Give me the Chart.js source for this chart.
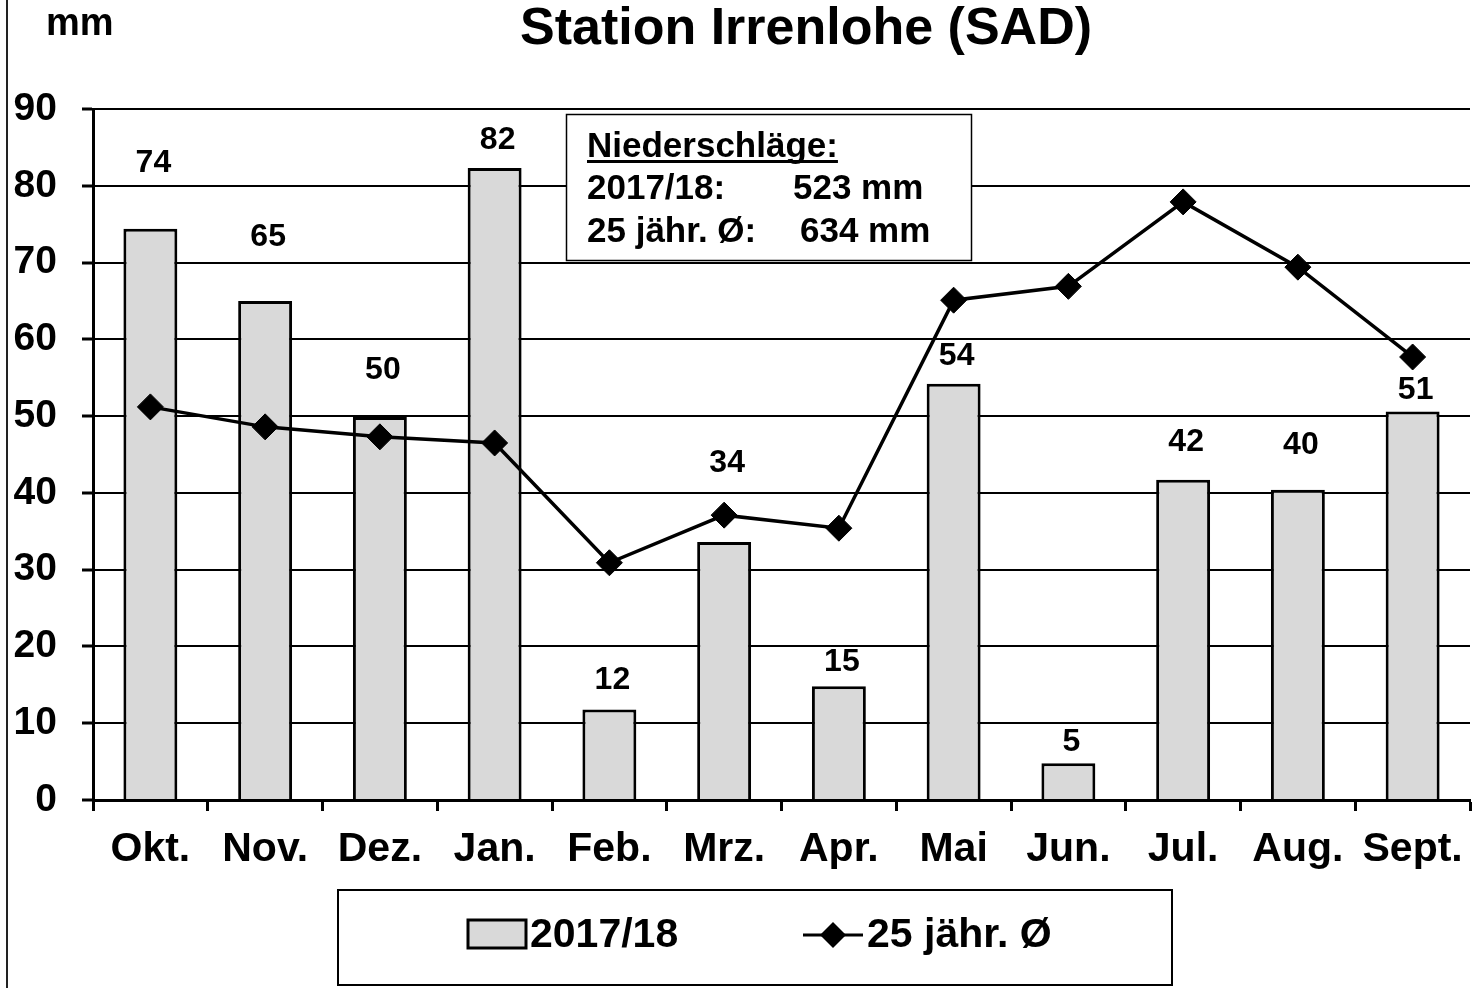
<!DOCTYPE html>
<html><head><meta charset="utf-8">
<script src="https://cdn.jsdelivr.net/npm/chart.js@4/dist/chart.umd.min.js"></script>
<style>html,body{margin:0;padding:0;background:#fff;}#wrap{width:1472px;height:988px;position:relative;}canvas{display:block;}</style>
</head><body><div id="wrap"><canvas id="c" width="1472" height="988"></canvas></div>
<script>
// ---- data ----
const categories = ['Okt.','Nov.','Dez.','Jan.','Feb.','Mrz.','Apr.','Mai','Jun.','Jul.','Aug.','Sept.'];
const precip201718 = [74.4, 65.0, 49.9, 82.3, 11.8, 33.6, 14.8, 54.2, 4.8, 41.7, 40.4, 50.6];
const avg25years = [51.2, 48.6, 47.3, 46.5, 30.9, 37.1, 35.4, 65.1, 66.9, 77.9, 69.4, 57.7];
const yTickValues = [0, 10, 20, 30, 40, 50, 60, 70, 80, 90];
const seriesNames = ['2017/18', '25 jähr. Ø'];
const chartTitle = 'Station Irrenlohe (SAD)';
const unitLabel = 'mm';
const boxHeading = 'Niederschläge:';
const boxRowLabels = ['2017/18:', '25 jähr. Ø:'];
const boxRowValues = ['523 mm', '634 mm'];

// ---- style (label placement relative to bar top, px) ----
const labelOffsets = [-66, -64, -47, -28, -29, -79, -24, -28, -21, -38, -45, -21];
const FONT = '"Liberation Sans", Arial, Helvetica, sans-serif';
const BAR_FILL = '#d9d9d9';

const overlay = {
  id: 'overlay',
  afterDraw(chart) {
    const ctx = chart.ctx;
    ctx.save();
    // left frame line
    ctx.strokeStyle = '#222'; ctx.lineWidth = 2;
    ctx.beginPath(); ctx.moveTo(7, 0); ctx.lineTo(7, 988); ctx.stroke();

    ctx.fillStyle = '#000';
    // title
    ctx.font = 'bold 52px ' + FONT;
    ctx.textAlign = 'center'; ctx.textBaseline = 'alphabetic';
    ctx.fillText(chartTitle, 806, 44);
    // unit
    ctx.font = 'bold 38px ' + FONT;
    ctx.textAlign = 'left';
    ctx.fillText(unitLabel, 46, 35);

    // data labels
    const meta = chart.getDatasetMeta(1);
    ctx.font = 'bold 32px ' + FONT;
    ctx.textAlign = 'center'; ctx.textBaseline = 'middle';
    meta.data.forEach((bar, i) => {
      ctx.fillText(String(Math.round(precip201718[i])), bar.x + 3, bar.y + labelOffsets[i]);
    });

    // info box
    ctx.fillStyle = '#fff';
    ctx.fillRect(566, 114, 406, 147);
    ctx.strokeStyle = '#000'; ctx.lineWidth = 1.5;
    ctx.strokeRect(566.5, 114.5, 405, 146);
    ctx.fillStyle = '#000';
    ctx.font = 'bold 35px ' + FONT;
    ctx.textAlign = 'left'; ctx.textBaseline = 'alphabetic';
    ctx.fillText(boxHeading, 587, 157);
    const hw = ctx.measureText(boxHeading).width;
    ctx.fillRect(587, 160, hw, 3);
    ctx.fillText(boxRowLabels[0], 587, 199);
    ctx.fillText(boxRowValues[0], 793, 199);
    ctx.fillText(boxRowLabels[1], 587, 242);
    ctx.fillText(boxRowValues[1], 800, 242);

    // legend
    ctx.strokeStyle = '#000'; ctx.lineWidth = 2;
    ctx.strokeRect(338, 890, 834, 95);
    ctx.fillStyle = BAR_FILL;
    ctx.fillRect(468, 920, 58, 28);
    ctx.lineWidth = 3;
    ctx.strokeRect(468, 920, 58, 28);
    ctx.fillStyle = '#000';
    ctx.font = 'bold 41px ' + FONT;
    ctx.textBaseline = 'middle';
    ctx.fillText(seriesNames[0], 530, 936);
    ctx.beginPath(); ctx.moveTo(803, 935); ctx.lineTo(863, 935); ctx.stroke();
    ctx.beginPath();
    ctx.moveTo(833, 922); ctx.lineTo(846, 935); ctx.lineTo(833, 948); ctx.lineTo(820, 935); ctx.closePath();
    ctx.fill();
    ctx.fillText(seriesNames[1], 867, 936);
    ctx.restore();
  }
};

new Chart(document.getElementById('c'), {
  data: {
    labels: categories,
    datasets: [
      {
        type: 'line', label: seriesNames[1], data: avg25years, order: 0,
        borderColor: '#000', borderWidth: 3.5, tension: 0,
        pointStyle: 'rectRot', pointRadius: 13, pointBackgroundColor: '#000',
        pointBorderColor: '#000', pointBorderWidth: 1
      },
      {
        type: 'bar', label: seriesNames[0], data: precip201718, order: 1,
        backgroundColor: BAR_FILL, borderColor: '#000', borderWidth: 3,
        barPercentage: 0.47, categoryPercentage: 1.0
      }
    ]
  },
  options: {
    responsive: false, animation: false,
    layout: { autoPadding: false, padding: { left: 0, right: 2, top: 109, bottom: 88 } },
    plugins: { legend: { display: false }, tooltip: { enabled: false }, title: { display: false } },
    scales: {
      x: {
        offset: true,
        grid: { offset: true, drawOnChartArea: false, drawTicks: true, tickLength: 11, tickWidth: 3, tickColor: '#000', color: '#000' },
        border: { color: '#000', width: 3 },
        ticks: { color: '#000', font: { family: FONT, size: 41, weight: 'bold' }, padding: 14, maxRotation: 0, autoSkip: false },
        afterFit(s) { s.height = 100; s.paddingLeft = 0; s.paddingRight = 0; }
      },
      y: {
        min: 0, max: 90,
        afterBuildTicks(s) { s.ticks = yTickValues.map(v => ({ value: v })); },
        grid: { color: '#000', lineWidth: 2, tickLength: 11, tickWidth: 3, tickColor: '#000', drawTicks: true },
        border: { color: '#000', width: 3 },
        ticks: { color: '#000', font: { family: FONT, size: 39, weight: 'bold' }, padding: 25 },
        afterFit(s) { s.width = 93; s.paddingTop = 0; s.paddingBottom = 0; }
      }
    }
  },
  plugins: [overlay]
});
</script>
</body></html>
